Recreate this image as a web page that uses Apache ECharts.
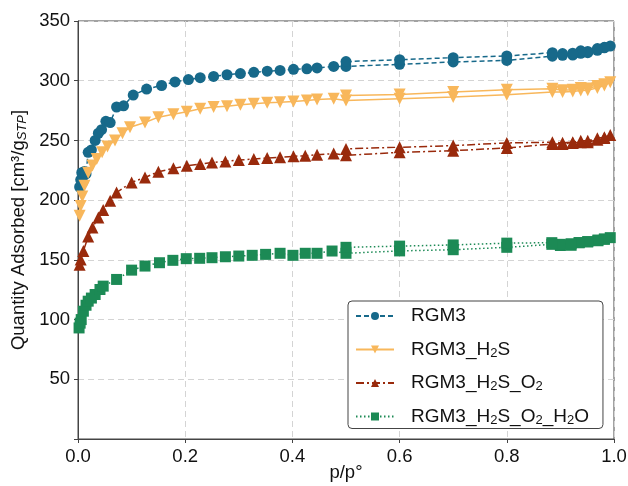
<!DOCTYPE html>
<html><head><meta charset="utf-8">
<script src="https://cdn.jsdelivr.net/npm/echarts@6/dist/echarts.min.js"></script>
<style>html,body{margin:0;padding:0;background:#fff}#c{width:628px;height:486px}</style>
</head><body><div id="c"></div>
<script>
// RGM3
const rgm3AdsP = [0.003,0.005,0.007,0.009,0.012,0.015,0.019,0.025,0.032,0.038,0.044,0.052,0.06,0.072,0.085,0.103,0.128,0.156,0.181,0.206,0.228,0.253,0.278,0.303,0.328,0.353,0.377,0.402,0.427,0.446,0.477,0.5,0.6,0.7,0.8,0.885,0.904,0.923,0.938,0.951,0.969,0.982,0.993];
const rgm3AdsQ = [211,217,223,215,224,222,240,242,250,256,259,266,265,278,279,288,293,296,299,301,302.5,303.6,305,306,307,308,308.6,309.5,310,310.7,312,312,313.7,315.7,317,320.5,321.3,321.5,323,323.5,325.5,327.5,329];
const rgm3DesP = [0.982,0.969,0.951,0.938,0.923,0.904,0.885,0.8,0.7,0.6,0.5];
const rgm3DesQ = [328,326.9,324.5,325,323,322.7,323.5,320.7,319.3,317.6,316];
// RGM3_H2S
const h2sAdsP = [0.003,0.005,0.008,0.012,0.019,0.027,0.035,0.045,0.055,0.069,0.083,0.097,0.125,0.15,0.178,0.203,0.228,0.253,0.278,0.303,0.328,0.353,0.377,0.402,0.427,0.446,0.477,0.5,0.6,0.7,0.8,0.885,0.904,0.923,0.938,0.951,0.969,0.982,0.993];
const h2sAdsQ = [187,195,203,212,223,229,234.5,240,245,250,256,261,265,269.5,272,274,276.5,278,278.6,279.8,280.7,281.5,282,282.6,283.4,284.3,284.9,283.4,285,286.3,288.2,290.5,290.5,291,291.8,292,294,296,298.8];
const h2sDesP = [0.982,0.969,0.951,0.938,0.923,0.904,0.885,0.8,0.7,0.6,0.5];
const h2sDesQ = [297,295.5,293.5,293.8,292.5,292,293.3,292.4,290.5,288.5,287.6];
// RGM3_H2S_O2
const o2AdsP = [0.003,0.005,0.01,0.019,0.027,0.038,0.047,0.06,0.072,0.1,0.125,0.15,0.178,0.203,0.228,0.25,0.275,0.3,0.328,0.353,0.377,0.402,0.424,0.446,0.477,0.5,0.6,0.7,0.8,0.885,0.904,0.923,0.938,0.951,0.969,0.982,0.993];
const o2AdsQ = [146,150.4,157.4,169.5,177,185.4,191.8,199.4,206.4,214.8,219,223.8,226.6,228.8,230.2,231.6,232.4,233.6,234.4,235.3,235.9,236.7,237.2,238,239,237.5,240,241.4,243.7,247,247,247.9,248.5,248.5,250.5,252,254.6];
const o2DesP = [0.982,0.969,0.951,0.938,0.923,0.904,0.885,0.8,0.7,0.6,0.5];
const o2DesQ = [252.6,251.8,249.8,249.8,248.5,248,248.5,247.9,245.7,244.3,242.9];
// RGM3_H2S_O2_H2O
const h2oAdsP = [0.002,0.004,0.006,0.01,0.015,0.019,0.025,0.032,0.041,0.047,0.072,0.1,0.125,0.152,0.177,0.202,0.227,0.25,0.275,0.3,0.325,0.35,0.377,0.401,0.424,0.446,0.474,0.5,0.6,0.7,0.8,0.884,0.9,0.92,0.935,0.951,0.97,0.982,0.993];
const h2oAdsQ = [93,97,100,107,112,115.4,118,121,125.2,128,133.6,141.4,144.8,147.6,149.6,151,151.3,151.8,152.6,153.2,153.8,154.6,155.5,153.8,155.5,155.5,157.4,155.5,157.5,158.5,160.5,163,162,162.2,164.4,165,166.6,167.2,168.6];
const h2oDesP = [0.982,0.97,0.951,0.935,0.92,0.9,0.884,0.8,0.7,0.6,0.5];
const h2oDesQ = [167.5,166,165.3,164.4,163.5,163,164.4,164,162.5,161.5,160.5];

const seriesNames = ['RGM3','RGM3_H2S','RGM3_H2S_O2','RGM3_H2S_O2_H2O'];
const xTicks = [0,0.2,0.4,0.6,0.8,1.0];
const yTicks = [50,100,150,200,250,300,350];

function pts(ap, aq, dp, dq){
  const out = [];
  ap.forEach((p,i)=>out.push([p,aq[i]]));
  dp.forEach((p,i)=>out.push([p,dq[i]]));
  return out;
}
const colors = ['#17698a','#f8b75b','#992a0c','#1c8a55'];
const FONT = 'Liberation Sans, Arial, sans-serif';
const FS = 18.5;

const chart = echarts.init(document.getElementById('c'), null, {renderer:'canvas'});
const mk = (name, data, color, symbol, size, ltype, rot) => ({
  name, type:'line', data, symbol, symbolSize:size, showSymbol:true, symbolRotate:rot||0,
  itemStyle:{color}, lineStyle:{color, width:1.5, type:ltype}, animation:false, z:3
});
chart.setOption({
  animation:false,
  grid:{left:78, right:14, top:21, bottom:47, containLabel:false, outerBoundsMode:'none',
    show:true, borderColor:'#444', borderWidth:1},
  xAxis:{type:'value', min:0, max:1, interval:0.2,
    name:'p/p°', nameLocation:'middle', nameGap:24, nameMoveOverlap:false,
    nameTextStyle:{fontFamily:FONT, fontSize:FS, color:'#111'},
    axisLine:{show:true, lineStyle:{color:'#444'}},
    axisTick:{show:true, length:4, lineStyle:{color:'#444'}},
    axisLabel:{fontFamily:FONT, fontSize:FS, color:'#111', margin:8, formatter:v=>v.toFixed(1)},
    splitLine:{show:true, lineStyle:{color:'#d4d4d4', type:[6,4]}}},
  yAxis:{type:'value', min:0, max:350, interval:50,
    name:'Quantity Adsorbed [cm³/g{sub|STP}]', nameLocation:'middle', nameGap:49, nameMoveOverlap:false,
    nameTextStyle:{fontFamily:FONT, fontSize:FS, color:'#111',
      rich:{sub:{fontFamily:FONT, fontSize:13, fontStyle:'italic', color:'#111', verticalAlign:'bottom', padding:[8,0,0,0]}}},
    axisLine:{show:true, lineStyle:{color:'#444'}},
    axisTick:{show:true, length:4, lineStyle:{color:'#444'}},
    axisLabel:{fontFamily:FONT, fontSize:FS, color:'#111', margin:8, formatter:v=>v===0?'':String(v)},
    splitLine:{show:true, lineStyle:{color:'#d4d4d4', type:[6,4]}}},
  legend:{orient:'vertical', left:348, top:301,
    padding:[5,14,2,7], itemGap:11.5, itemWidth:38, itemHeight:10,
    backgroundColor:'#fff', borderColor:'#444', borderWidth:1, borderRadius:4,
    data:seriesNames,
    formatter:n=>({'RGM3':'RGM3','RGM3_H2S':'RGM3_H{s|2}S','RGM3_H2S_O2':'RGM3_H{s|2}S_O{s|2}','RGM3_H2S_O2_H2O':'RGM3_H{s|2}S_O{s|2}_H{s|2}O'}[n]),
    textStyle:{fontFamily:FONT, fontSize:FS+0.5, lineHeight:20, color:'#111', padding:[0,0,0,12],
      rich:{s:{fontFamily:FONT, fontSize:13, lineHeight:20, color:'#111', verticalAlign:'bottom', padding:[9,0,0,0]}}}},
  series:[
    mk(seriesNames[0], pts(rgm3AdsP,rgm3AdsQ,rgm3DesP,rgm3DesQ), colors[0], 'circle', 11, [5,3]),
    mk(seriesNames[1], pts(h2sAdsP,h2sAdsQ,h2sDesP,h2sDesQ), colors[1], 'triangle', 12, 'solid', 180),
    mk(seriesNames[2], pts(o2AdsP,o2AdsQ,o2DesP,o2DesQ), colors[2], 'triangle', 12, [8,3,2,3]),
    mk(seriesNames[3], pts(h2oAdsP,h2oAdsQ,h2oDesP,h2oDesQ), colors[3], 'rect', 11, [1.5,2.5])
  ]
});
</script></body></html>
